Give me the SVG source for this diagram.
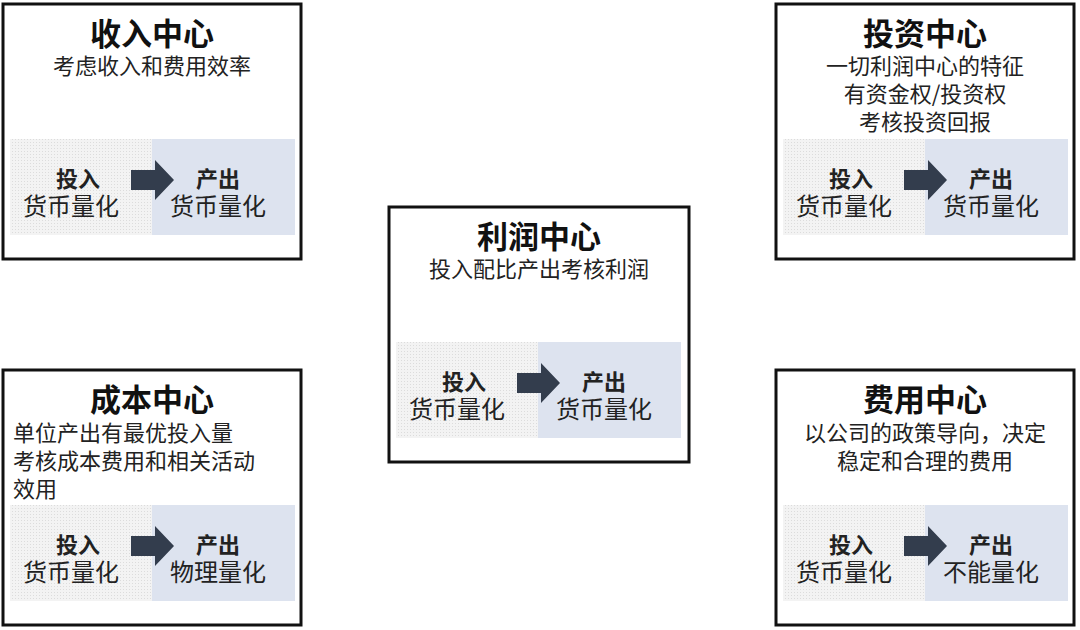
<svg xmlns="http://www.w3.org/2000/svg" width="1080" height="630" viewBox="0 0 1080 630">
<defs>
<pattern id="dots" width="3" height="3" patternUnits="userSpaceOnUse"><rect width="3" height="3" fill="#f3f3f3"/><rect width="1" height="1" fill="#dcdcdc"/></pattern>
<g id="flow">
<rect x="7" y="135" width="142" height="96" fill="url(#dots)"/>
<rect x="149" y="135" width="143" height="96" fill="#dde3ef"/>
<path d="M128,166 H152 V156 L171,176 L152,196 V186 H128 Z" fill="#333d4d"/>
<text class="b" x="75" y="183">投入</text>
<text class="n" x="68" y="211">货币量化</text>
<text class="b" x="215" y="183">产出</text>
</g>
</defs>
<style>
text{font-family:"Noto Sans CJK SC","Liberation Sans",sans-serif;fill:#222;text-anchor:middle}
.t{font-size:31px;font-weight:bold;fill:#111}
.s{font-size:22px}
.b{font-size:22px;font-weight:bold}
.n{font-size:24px}
.box{fill:#fff;stroke:#111;stroke-width:3}
</style>
<rect width="1080" height="630" fill="#fff"/>
<g id="shouru" transform="translate(3,4)">
<rect class="box" width="298" height="255"/>
<use href="#flow"/>
<text class="n" x="215" y="211">货币量化</text>
<text class="t" x="149" y="41">收入中心</text>
<text class="s" x="149" y="70">考虑收入和费用效率</text>
</g>
<g id="touzi" transform="translate(776,4)">
<rect class="box" width="298" height="255"/>
<use href="#flow"/>
<text class="n" x="215" y="211">货币量化</text>
<text class="t" x="149" y="41">投资中心</text>
<text class="s" x="149" y="70">一切利润中心的特征</text>
<text class="s" x="149" y="98">有资金权/投资权</text>
<text class="s" x="149" y="126">考核投资回报</text>
</g>
<g id="lirun" transform="translate(389,207)">
<rect class="box" width="300" height="255"/>
<use href="#flow"/>
<text class="n" x="215" y="211">货币量化</text>
<text class="t" x="150" y="41">利润中心</text>
<text class="s" x="150" y="70">投入配比产出考核利润</text>
</g>
<g id="chengben" transform="translate(3,370)">
<rect class="box" width="298" height="255"/>
<use href="#flow"/>
<text class="n" x="215" y="211">物理量化</text>
<text class="t" x="149" y="41">成本中心</text>
<text class="s" x="10" y="71" style="text-anchor:start">单位产出有最优投入量</text>
<text class="s" x="10" y="99" style="text-anchor:start">考核成本费用和相关活动</text>
<text class="s" x="10" y="127" style="text-anchor:start">效用</text>
</g>
<g id="feiyong" transform="translate(776,370)">
<rect class="box" width="298" height="255"/>
<use href="#flow"/>
<text class="n" x="215" y="211">不能量化</text>
<text class="t" x="149" y="41">费用中心</text>
<text class="s" x="149" y="71">以公司的政策导向，决定</text>
<text class="s" x="149" y="99">稳定和合理的费用</text>
</g>
<g id="connectors"/>
</svg>
